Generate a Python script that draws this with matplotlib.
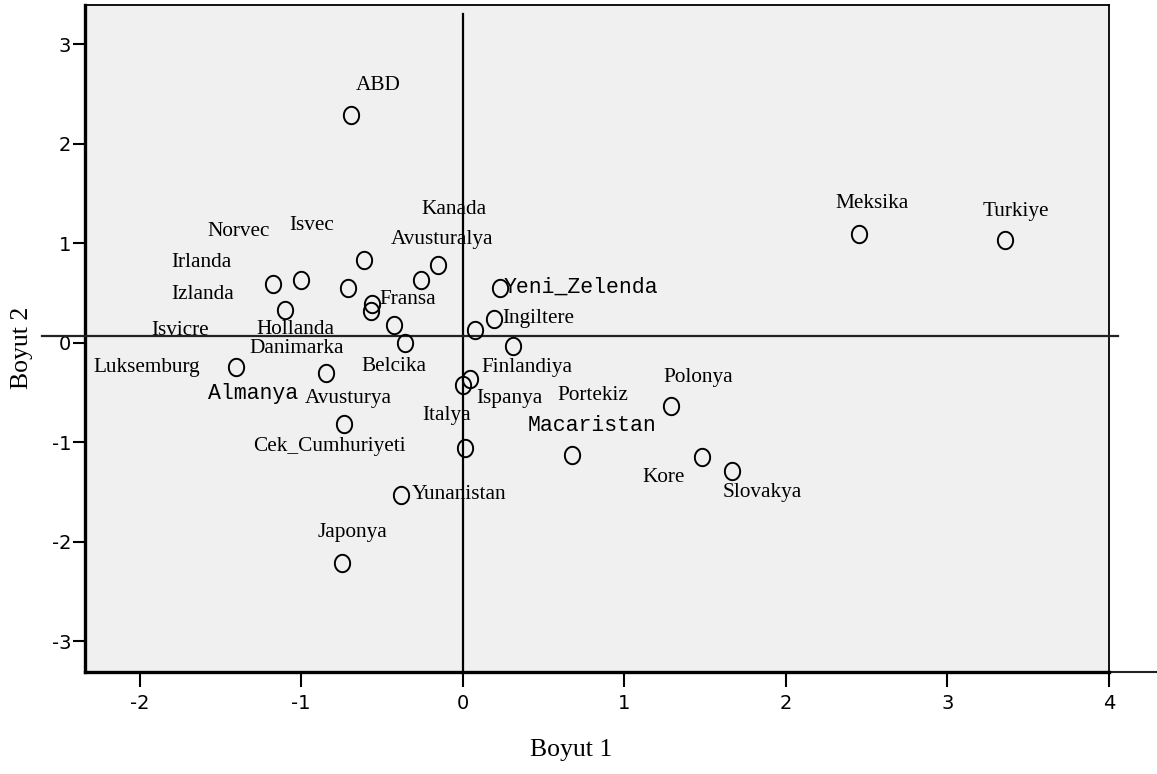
import matplotlib.pyplot as plt
import numpy as np
from matplotlib.path import Path

ulke = ['ABD', 'Meksika', 'Turkiye', 'Irlanda', 'Norvec', 'Isvec', 'Isvicre',
        'Kanada', 'Avusturalya', 'Izlanda', 'Fransa', 'Hollanda', 'Danimarka',
        'Belcika', 'Luksemburg', 'Almanya', 'Cek_Cumhuriyeti', 'Ispanya',
        'Portekiz', 'Italya', 'Yunanistan', 'Avusturya', 'Yeni_Zelenda',
        'Ingiltere', 'Finlandiya', 'Macaristan', 'Polonya', 'Kore', 'Slovakya',
        'Japonya']
boyut1 = [-0.692, 2.452, 3.358, -1.173, -1.002, -0.612, -0.712, -0.156, -0.259,
          -1.099, -0.561, -0.569, -0.423, -0.359, -1.402, -0.846, -0.737, 0.046,
          0.000, 0.012, -0.380, 0.076, 0.230, 0.195, 0.312, 0.678, 1.290, 1.483,
          1.668, -0.746]
boyut2 = [2.285, 1.095, 1.032, 0.593, 0.633, 0.828, 0.547, 0.781, 0.633, 0.332,
          0.386, 0.319, 0.178, -0.003, -0.244, -0.304, -0.817, -0.368, -0.425,
          -1.061, -1.531, 0.125, 0.553, 0.235, -0.033, -1.129, -0.636, -1.149,
          -1.289, -2.214]

# label placement, pixel offsets from each point
etiket_ofset = {
    'ABD': (27, 30), 'Meksika': (13, 30), 'Turkiye': (11, 29),
    'Irlanda': (-72, 21), 'Norvec': (-62, 48), 'Isvec': (-52, 35),
    'Isvicre': (-168, -42), 'Kanada': (16, 56), 'Avusturalya': (21, 40),
    'Izlanda': (-83, 15), 'Fransa': (36, 5), 'Hollanda': (-75, -19),
    'Danimarka': (-98, -23), 'Belcika': (-11, -23), 'Luksemburg': (-90, -1),
    'Almanya': (-73, -21), 'Cek_Cumhuriyeti': (-14, -22), 'Ispanya': (39, -19),
    'Portekiz': (130, -10), 'Italya': (-18, 33), 'Yunanistan': (58, 1),
    'Avusturya': (-127, -68), 'Yeni_Zelenda': (81, 1), 'Ingiltere': (44, 1),
    'Finlandiya': (14, -21), 'Macaristan': (20, 30), 'Polonya': (27, 28),
    'Kore': (-39, -20), 'Slovakya': (30, -22), 'Japonya': (10, 30),
}
mono = ['Almanya', 'Yeni_Zelenda', 'Macaristan']

W, H = 1157, 774
plt.rcParams['axes.unicode_minus'] = False
fig = plt.figure(figsize=(W / 100, H / 100), dpi=100)
ax = fig.add_axes([85 / W, (H - 672) / H, (1109 - 85) / W, (672 - 4.5) / H])
ax.set_facecolor('#f0f0f0')

xmin, xmax = -2.338, 3.99
ymin, ymax = -3.31, 3.40
ax.set_xlim(xmin, xmax)
ax.set_ylim(ymin, ymax)

# slightly tall open circle marker
t = np.linspace(0, 2 * np.pi, 60)
halka = Path(np.column_stack([0.88 * np.cos(t), np.sin(t)]), closed=True)

ax.plot(boyut1, boyut2, linestyle='none', marker=halka, ms=12.5, mfc='none',
        mec='black', mew=1.4, zorder=4)

for ad, bx, by in zip(ulke, boyut1, boyut2):
    if ad in mono:
        fam, fs = 'Liberation Mono', 15.5
    else:
        fam, fs = 'Liberation Serif', 15.3
    ax.annotate(ad, (bx, by), xytext=etiket_ofset[ad], textcoords='offset pixels',
                ha='center', va='center', fontsize=fs, family=fam, zorder=5)

# reference lines through the origin
ax.plot([0, 0], [ymin, 3.303], color='black', lw=1.6, zorder=3)
ax.plot([-0.042, 1.009], [(0.067 - ymin) / (ymax - ymin)] * 2, color='#222222',
        lw=1.6, transform=ax.transAxes, clip_on=False, zorder=3)
ax.plot([1.0, 1.05], [0, 0], color='#222222', lw=1.5, transform=ax.transAxes,
        clip_on=False)

for s in ['top', 'right']:
    ax.spines[s].set_linewidth(1.3)
for s in ['left', 'bottom']:
    ax.spines[s].set_linewidth(2.4)

ax.set_xticks([-2, -1, 0, 1, 2, 3, 4])
ax.set_yticks([-3, -2, -1, 0, 1, 2, 3])
ax.tick_params(axis='x', direction='out', length=10.5, width=1.5, pad=5, labelsize=14)
ax.tick_params(axis='y', direction='out', length=9, width=1.5, pad=1, labelsize=14)

fig.text(571 / W, 1 - 750 / H, 'Boyut 1', ha='center', va='center',
         fontsize=18.5, family='Liberation Serif')
fig.text(22 / W, 1 - 348 / H, 'Boyut 2', ha='center', va='center', rotation=90,
         fontsize=18.5, family='Liberation Serif')

fig.savefig('out.png', dpi=100)
